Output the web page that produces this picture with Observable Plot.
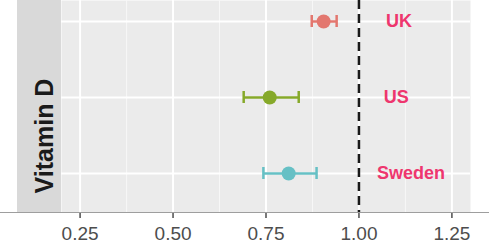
<!DOCTYPE html>
<html><head><meta charset="utf-8">
<script src="https://cdn.jsdelivr.net/npm/d3@7"></script>
<script src="https://cdn.jsdelivr.net/npm/@observablehq/plot@0.6"></script>
<style>body{margin:0;background:#fff;} svg{display:block}</style>
</head><body><div id="chart"></div>
<script>
const countries = ["UK", "US", "Sweden"];
const estimates = [0.905, 0.76, 0.811];
const lower = [0.873, 0.69, 0.743];
const upper = [0.94, 0.838, 0.886];
const colors = ["#e3776f", "#86a92a", "#66c0c5"];
const labelX = [1.108, 1.10, 1.14];
const facetLabel = "Vitamin D";
const majorTicks = [0.25, 0.5, 0.75, 1, 1.25];
const minorTicks = [0.375, 0.625, 0.875, 1.125];
const refLine = [1];

const data = countries.map((c, i) => ({country: c, est: estimates[i], lo: lower[i], hi: upper[i], color: colors[i], lx: labelX[i]}));

const W = 489, H = 247, mL = 61, mB = 35;
const plot = Plot.plot({
  width: W, height: H,
  marginLeft: mL, marginRight: 19, marginTop: 0, marginBottom: mB,
  style: {fontFamily: "'Liberation Sans', Arial, sans-serif", background: "#fff"},
  x: {domain: [0.2, 1.3]},
  y: {type: "band", domain: countries, range: [14, 180], paddingInner: 0.844, paddingOuter: 0, axis: null},
  color: {type: "identity"},
  marks: [
    Plot.frame({fill: "#ebebeb", stroke: null}),
    Plot.ruleX(minorTicks, {stroke: "#f7f7f7", strokeWidth: 1}),
    Plot.ruleX(majorTicks, {stroke: "#fff", strokeWidth: 2}),
    Plot.ruleY(data, {y: "country", stroke: "#fff", strokeWidth: 2}),
    Plot.ruleX(refLine, {stroke: "#1a1a1a", strokeWidth: 2.5, strokeDasharray: "9,5"}),
    Plot.ruleY(data, {y: "country", x1: "lo", x2: "hi", stroke: "color", strokeWidth: 2.5}),
    Plot.tickX(data, {x: "lo", y: "country", stroke: "color", strokeWidth: 2.5}),
    Plot.tickX(data, {x: "hi", y: "country", stroke: "color", strokeWidth: 2.5}),
    Plot.dot(data, {x: "est", y: "country", r: 7, fill: "color", stroke: null}),
    Plot.text(data, {x: "lx", y: "country", text: "country", fill: "#ee366e", fontWeight: "bold", fontSize: 18}),
    Plot.axisX(majorTicks, {tickSize: 6, tickPadding: 8, fontSize: 19, color: "#4d4d4d", strokeWidth: 1.5, tickFormat: d3.format(".2f")})
  ]
});

const svg = d3.select(plot);
const stripG = svg.insert("g", ":first-child");
stripG.append("rect").attr("x", 17).attr("y", 0).attr("width", mL - 17).attr("height", H - mB).attr("fill", "#d9d9d9");
stripG.append("text").attr("transform", "translate(53,136) rotate(-90)")
  .attr("text-anchor", "middle").attr("font-size", 25).attr("font-weight", "bold")
  .attr("fill", "#1a1a1a").attr("font-family", "'Liberation Sans', Arial, sans-serif").text(facetLabel);
svg.append("line").attr("x1", 0).attr("x2", W).attr("y1", H - mB + 0.5).attr("y2", H - mB + 0.5)
  .attr("stroke", "#9e9e9e").attr("stroke-width", 1);
document.getElementById("chart").appendChild(plot);
</script>
</body></html>
